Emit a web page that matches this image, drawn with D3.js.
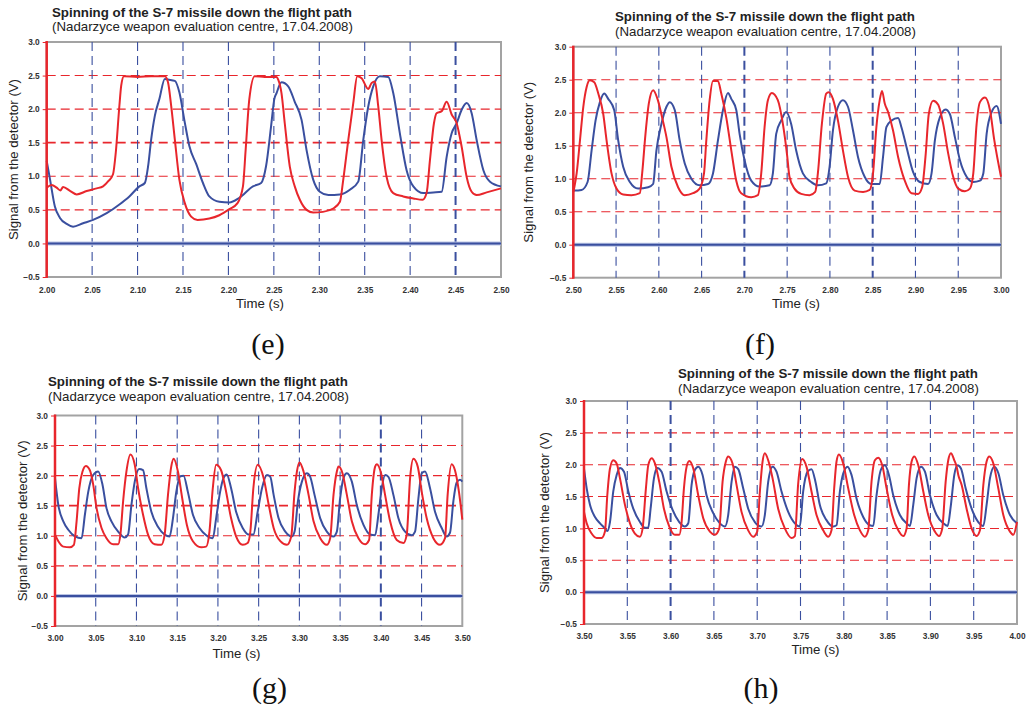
<!DOCTYPE html>
<html>
<head>
<meta charset="utf-8">
<script src="https://cdn.jsdelivr.net/npm/d3@7"></script>
<style>
  body { margin: 0; background: #fff; }
  svg { display: block; }
</style>
</head>
<body>
<svg id="fig" width="1026" height="706"></svg>
<script>
// detector signals, [time (s), signal (V)]
const redE = [[2.000,0.83],[2.0055,0.87],[2.011,0.83],[2.015,0.79],[2.018,0.84],[2.026,0.78],[2.033,0.73],[2.044,0.78],[2.055,0.82],[2.062,0.85],[2.068,0.93],[2.073,1.03],[2.076,1.35],[2.080,2.05],[2.082,2.35],[2.085,2.49],[2.10,2.48],[2.115,2.49],[2.130,2.49],[2.1335,2.40],[2.137,2.05],[2.141,1.55],[2.146,0.95],[2.152,0.60],[2.159,0.40],[2.166,0.35],[2.179,0.37],[2.190,0.42],[2.201,0.51],[2.210,0.60],[2.216,0.85],[2.219,1.40],[2.223,2.15],[2.229,2.49],[2.24,2.48],[2.253,2.48],[2.2548,2.44],[2.2584,2.24],[2.262,1.79],[2.2676,1.14],[2.273,0.85],[2.2786,0.65],[2.286,0.50],[2.2933,0.46],[2.304,0.47],[2.3153,0.52],[2.3227,0.62],[2.3264,0.95],[2.3319,1.54],[2.3374,2.09],[2.3418,2.49],[2.3466,2.46],[2.3539,2.30],[2.3576,2.39],[2.3612,2.41],[2.3649,2.04],[2.3686,1.54],[2.3741,0.99],[2.3814,0.75],[2.3924,0.70],[2.4035,0.67],[2.4137,0.65],[2.4181,0.75],[2.4218,1.24],[2.4262,1.79],[2.4291,1.94],[2.4347,1.97],[2.4402,2.11],[2.4457,1.92],[2.4512,1.79],[2.4567,1.44],[2.4622,0.99],[2.4677,0.77],[2.4732,0.72],[2.4842,0.76],[2.50,0.82]];
const blueE = [[2.000,1.23],[2.0037,0.95],[2.009,0.55],[2.0146,0.38],[2.022,0.29],[2.029,0.25],[2.040,0.30],[2.051,0.35],[2.066,0.45],[2.080,0.58],[2.091,0.70],[2.102,0.85],[2.108,0.90],[2.1116,1.15],[2.115,1.55],[2.119,1.90],[2.124,2.15],[2.130,2.45],[2.1335,2.44],[2.141,2.42],[2.146,2.25],[2.152,1.80],[2.157,1.45],[2.1646,1.18],[2.172,0.90],[2.179,0.70],[2.190,0.62],[2.201,0.61],[2.212,0.68],[2.227,0.85],[2.236,0.90],[2.2414,1.15],[2.247,1.75],[2.2505,2.15],[2.253,2.24],[2.2584,2.40],[2.2658,2.34],[2.273,2.11],[2.2805,1.84],[2.286,1.39],[2.2933,0.95],[2.3006,0.77],[2.31,0.72],[2.3227,0.73],[2.3337,0.80],[2.3429,0.92],[2.3484,1.54],[2.3539,2.04],[2.3594,2.34],[2.3667,2.49],[2.3759,2.48],[2.3814,2.24],[2.3887,1.64],[2.3961,1.09],[2.4035,0.85],[2.4145,0.75],[2.4255,0.76],[2.4347,0.77],[2.4402,1.29],[2.4457,1.64],[2.4512,1.79],[2.4567,1.99],[2.4622,2.09],[2.4677,1.94],[2.4732,1.54],[2.4806,1.09],[2.4879,0.92],[2.50,0.85]];

const redF = [[2.50,0.80],[2.5012,0.87],[2.5039,1.08],[2.5078,1.58],[2.5117,2.09],[2.5156,2.39],[2.5194,2.49],[2.5245,2.46],[2.5292,2.29],[2.535,1.98],[2.5389,1.58],[2.5447,1.08],[2.5505,0.85],[2.5583,0.76],[2.568,0.75],[2.5778,0.78],[2.5805,1.08],[2.5844,1.68],[2.5883,2.14],[2.5933,2.34],[2.5984,2.21],[2.6038,1.93],[2.6089,1.63],[2.6147,1.18],[2.6225,0.87],[2.6302,0.75],[2.64,0.78],[2.6477,0.85],[2.6528,1.08],[2.6555,1.58],[2.6594,2.19],[2.6633,2.48],[2.6691,2.48],[2.673,2.29],[2.6788,1.93],[2.6847,1.43],[2.6905,0.97],[2.6963,0.78],[2.708,0.72],[2.7158,0.75],[2.7197,1.08],[2.7236,1.78],[2.7275,2.19],[2.7321,2.30],[2.7391,2.19],[2.745,1.83],[2.75,1.35],[2.7527,1.03],[2.7586,0.85],[2.7664,0.77],[2.7762,0.75],[2.7828,0.80],[2.7859,1.08],[2.7906,1.83],[2.7957,2.29],[2.7984,2.31],[2.8035,2.21],[2.8094,1.88],[2.8152,1.43],[2.8211,1.03],[2.8289,0.82],[2.8387,0.80],[2.8465,0.83],[2.8504,1.08],[2.8543,1.78],[2.8582,2.19],[2.8609,2.33],[2.8641,2.14],[2.868,2.01],[2.8738,1.73],[2.8797,1.33],[2.8875,0.97],[2.8953,0.78],[2.9031,0.77],[2.9078,0.87],[2.9117,1.33],[2.9156,1.98],[2.9207,2.18],[2.9266,2.12],[2.9324,1.83],[2.9383,1.38],[2.9441,1.03],[2.95,0.85],[2.9578,0.81],[2.9637,0.85],[2.9676,1.08],[2.9715,1.83],[2.9754,2.16],[2.9813,2.23],[2.9871,2.04],[2.9922,1.58],[3.00,1.03]];
const blueF = [[2.50,0.82],[2.5097,0.83],[2.5167,0.95],[2.5214,1.43],[2.526,1.88],[2.5311,2.16],[2.5362,2.29],[2.5408,2.21],[2.5478,2.04],[2.5525,1.58],[2.5583,1.18],[2.5661,0.95],[2.5758,0.85],[2.5875,0.87],[2.5933,0.92],[2.5972,1.43],[2.603,1.83],[2.6089,2.09],[2.6128,2.16],[2.6186,2.04],[2.6244,1.58],[2.6303,1.23],[2.638,1.00],[2.6477,0.90],[2.6575,0.92],[2.6633,1.08],[2.6691,1.58],[2.675,2.04],[2.6808,2.30],[2.6847,2.21],[2.6905,2.04],[2.6944,1.68],[2.7002,1.28],[2.708,0.97],[2.7177,0.88],[2.7294,0.90],[2.7333,1.08],[2.7372,1.68],[2.743,1.88],[2.7488,2.01],[2.7547,1.83],[2.7605,1.43],[2.7684,1.08],[2.7781,0.95],[2.7859,0.90],[2.7957,0.93],[2.7996,1.18],[2.8035,1.73],[2.8094,2.09],[2.8152,2.19],[2.8211,2.09],[2.827,1.73],[2.8328,1.33],[2.8406,1.03],[2.8484,0.92],[2.8582,0.92],[2.8621,1.33],[2.866,1.78],[2.8719,1.88],[2.8797,1.92],[2.8836,1.78],[2.8895,1.48],[2.8973,1.10],[2.9051,0.95],[2.9148,0.92],[2.9188,1.08],[2.9227,1.58],[2.9285,1.93],[2.9352,2.05],[2.9402,1.98],[2.9461,1.63],[2.952,1.28],[2.9598,1.03],[2.9676,0.95],[2.9754,0.97],[2.9793,1.08],[2.9832,1.68],[2.9891,2.01],[2.9949,2.10],[3.00,1.83]];

const redG = [[3.00,1.02],[3.0041,0.91],[3.0102,0.82],[3.0184,0.81],[3.0232,0.85],[3.0265,1.24],[3.0298,1.79],[3.0338,2.07],[3.0379,2.16],[3.0428,2.09],[3.0469,1.85],[3.051,1.46],[3.0571,1.13],[3.0632,0.96],[3.0714,0.86],[3.0775,0.86],[3.0803,1.02],[3.0836,1.57],[3.0877,2.07],[3.0926,2.35],[3.0979,2.18],[3.102,1.79],[3.1081,1.35],[3.1142,1.02],[3.1223,0.86],[3.1305,0.85],[3.1346,1.02],[3.1387,1.68],[3.1427,2.15],[3.1456,2.28],[3.1509,2.07],[3.1562,1.62],[3.1619,1.18],[3.1693,0.91],[3.1794,0.81],[3.1856,0.82],[3.1896,1.07],[3.1937,1.79],[3.1978,2.18],[3.2039,2.09],[3.2092,1.79],[3.2162,1.29],[3.2223,0.99],[3.2304,0.85],[3.2365,0.88],[3.2398,1.07],[3.2435,1.79],[3.2488,2.18],[3.2561,1.96],[3.2623,1.52],[3.2684,1.13],[3.2766,0.91],[3.2847,0.85],[3.29,0.99],[3.2941,1.73],[3.297,2.07],[3.3002,2.22],[3.3051,2.07],[3.3113,1.68],[3.3174,1.24],[3.3256,0.96],[3.3337,0.85],[3.3378,0.96],[3.3419,1.68],[3.346,2.07],[3.348,2.15],[3.3529,2.04],[3.3583,1.68],[3.3644,1.24],[3.3725,0.96],[3.3807,0.86],[3.3856,0.93],[3.3889,1.68],[3.393,2.15],[3.395,2.19],[3.4003,2.04],[3.4052,1.68],[3.4114,1.24],[3.4195,0.93],[3.4277,0.88],[3.4318,1.02],[3.4359,1.96],[3.44,2.28],[3.4453,2.15],[3.4502,1.73],[3.4563,1.29],[3.4645,0.96],[3.4727,0.85],[3.4788,0.96],[3.482,1.68],[3.4869,2.19],[3.491,2.09],[3.4959,1.73],[3.50,1.27]];
const blueG = [[3.00,1.96],[3.0041,1.51],[3.0102,1.24],[3.0163,1.10],[3.0245,0.99],[3.0326,0.96],[3.0367,1.35],[3.0408,1.73],[3.0469,2.01],[3.053,2.07],[3.0583,1.85],[3.0632,1.46],[3.0693,1.24],[3.0775,1.07],[3.0856,0.97],[3.0897,1.02],[3.0938,1.51],[3.0979,1.90],[3.1032,2.11],[3.1081,2.09],[3.1122,1.79],[3.1183,1.40],[3.1264,1.15],[3.1346,1.02],[3.1407,0.99],[3.1448,1.29],[3.1489,1.73],[3.1538,1.99],[3.1578,2.00],[3.1631,1.73],[3.1693,1.35],[3.1774,1.13],[3.1856,1.01],[3.1937,0.96],[3.1978,1.29],[3.2027,1.73],[3.2068,1.96],[3.2108,2.02],[3.2162,1.79],[3.2223,1.40],[3.2304,1.13],[3.2378,1.02],[3.2435,1.02],[3.2488,1.40],[3.2541,1.79],[3.2602,2.01],[3.2643,1.98],[3.2684,1.68],[3.2745,1.29],[3.2827,1.07],[3.2908,0.99],[3.2941,1.07],[3.2982,1.57],[3.3031,1.90],[3.3092,2.04],[3.3133,1.98],[3.3186,1.68],[3.3256,1.29],[3.3337,1.07],[3.3419,0.99],[3.346,1.07],[3.35,1.62],[3.3542,1.96],[3.3583,2.04],[3.3644,1.90],[3.3705,1.51],[3.3787,1.18],[3.3868,1.02],[3.393,1.01],[3.397,1.35],[3.4011,1.79],[3.4052,2.01],[3.4093,1.98],[3.4154,1.68],[3.4216,1.29],[3.4297,1.07],[3.4379,1.01],[3.442,1.07],[3.4461,1.62],[3.4502,2.04],[3.4543,2.07],[3.4604,1.79],[3.4665,1.40],[3.4747,1.13],[3.4808,0.99],[3.4849,1.05],[3.489,1.57],[3.493,1.88],[3.4971,1.93],[3.50,1.90]];

const redH = [[3.50,1.26],[3.5031,1.08],[3.5088,0.92],[3.5146,0.85],[3.5204,0.85],[3.5242,0.95],[3.5269,1.52],[3.53,1.94],[3.5338,2.07],[3.5377,2.02],[3.5415,1.79],[3.5473,1.37],[3.5531,1.08],[3.5588,0.92],[3.5646,0.87],[3.5677,1.00],[3.5715,1.63],[3.5742,1.99],[3.5781,2.10],[3.5819,2.02],[3.5869,1.73],[3.5923,1.31],[3.5985,1.03],[3.605,0.90],[3.61,0.90],[3.6127,1.10],[3.6154,1.63],[3.6185,1.97],[3.6215,2.06],[3.6262,1.94],[3.6319,1.52],[3.6377,1.16],[3.6454,0.95],[3.6512,0.90],[3.6562,1.00],[3.66,1.73],[3.6638,2.05],[3.6665,2.13],[3.6715,2.02],[3.6762,1.68],[3.6819,1.26],[3.6896,0.97],[3.6954,0.87],[3.70,0.95],[3.7031,1.58],[3.7062,2.05],[3.7088,2.18],[3.7127,2.07],[3.7177,1.79],[3.7242,1.31],[3.7319,1.00],[3.7396,0.85],[3.7435,0.88],[3.7473,1.70],[3.7519,2.09],[3.7569,1.97],[3.7627,1.58],[3.7685,1.21],[3.7762,0.97],[3.782,0.87],[3.7858,0.97],[3.7889,1.63],[3.7916,2.05],[3.7943,2.16],[3.7993,2.02],[3.8051,1.63],[3.812,1.21],[3.8186,0.97],[3.8243,0.87],[3.8282,0.97],[3.832,1.73],[3.8359,2.07],[3.8398,2.11],[3.8444,1.99],[3.8494,1.63],[3.8559,1.21],[3.8629,0.97],[3.8686,0.88],[3.8725,1.00],[3.8752,1.68],[3.8783,2.05],[3.8814,2.13],[3.886,1.99],[3.8918,1.58],[3.8975,1.21],[3.9052,0.95],[3.9099,0.88],[3.9137,1.00],[3.9176,1.73],[3.9206,2.07],[3.9237,2.18],[3.9276,2.07],[3.9303,1.97],[3.9322,1.84],[3.9361,1.68],[3.9418,1.31],[3.9476,1.00],[3.9534,0.88],[3.9572,0.97],[3.9611,1.68],[3.9649,2.05],[3.968,2.13],[3.9727,2.02],[3.9784,1.63],[3.9842,1.21],[3.9919,0.95],[3.9958,0.90],[4.00,1.10]];
const blueH = [[3.50,1.94],[3.5031,1.63],[3.5069,1.37],[3.5127,1.18],[3.5185,1.08],[3.5242,1.00],[3.5269,0.96],[3.53,1.10],[3.5338,1.58],[3.5377,1.84],[3.5415,1.95],[3.5462,1.89],[3.5512,1.58],[3.5569,1.31],[3.5646,1.10],[3.5704,1.01],[3.5742,1.01],[3.5769,1.31],[3.5808,1.79],[3.5846,1.95],[3.5896,1.89],[3.5954,1.58],[3.6023,1.29],[3.61,1.10],[3.6165,1.03],[3.6204,1.08],[3.6242,1.68],[3.6281,1.92],[3.6319,1.97],[3.6369,1.84],[3.6415,1.52],[3.6492,1.24],[3.6569,1.08],[3.6627,1.03],[3.6665,1.21],[3.6704,1.73],[3.6742,1.97],[3.6781,1.93],[3.6838,1.63],[3.6896,1.31],[3.6973,1.10],[3.705,1.03],[3.7088,1.21],[3.7127,1.73],[3.7177,1.97],[3.7223,1.89],[3.7281,1.58],[3.7358,1.26],[3.7435,1.08],[3.7492,1.03],[3.7531,1.58],[3.7581,1.89],[3.7627,1.93],[3.7673,1.73],[3.7723,1.37],[3.78,1.13],[3.7877,1.03],[3.7916,1.05],[3.7955,1.58],[3.7993,1.86],[3.8043,1.97],[3.8089,1.84],[3.8147,1.47],[3.8224,1.18],[3.8301,1.05],[3.834,1.04],[3.8378,1.52],[3.8428,1.92],[3.8475,1.99],[3.8521,1.84],[3.8571,1.52],[3.8648,1.21],[3.8725,1.08],[3.8764,1.04],[3.8802,1.37],[3.8841,1.79],[3.8891,1.97],[3.8937,1.89],[3.8995,1.52],[3.9072,1.21],[3.9149,1.08],[3.9199,1.04],[3.9237,1.37],[3.9276,1.84],[3.9314,1.99],[3.9353,1.94],[3.9407,1.63],[3.9476,1.31],[3.9553,1.10],[3.9611,1.04],[3.9649,1.37],[3.9688,1.79],[3.9738,1.97],[3.9784,1.87],[3.9842,1.52],[3.9919,1.21],[4.00,1.08]];

const yTicks = [-0.5, 0, 0.5, 1.0, 1.5, 2.0, 2.5, 3.0];
const yGrid = [0.5, 1.0, 1.5, 2.0, 2.5];
const titleText = "Spinning of the S-7 missile down the flight path";
const subText = "(Nadarzyce weapon evaluation centre, 17.04.2008)";
const yLabel = "Signal from the detector (V)";
const xLabel = "Time (s)";

// panel placement (pixels)
const panels = [
  {tag: "(e)", t: [2.0, 2.5], red: redE, blue: blueE, x0: 46.7, x1: 501, y0: 42, y1: 277,
   tx: 52, ty: 17, sy: 31, lx: 18, tickY: 293, xlX: 260, xlY: 308, tagX: 268, tagY: 354, heavyX: [2.45], heavyY: [1.5]},
  {tag: "(f)", t: [2.5, 3.0], red: redF, blue: blueF, x0: 573.3, x1: 1001, y0: 46.7, y1: 277.7,
   tx: 615, ty: 21, sy: 36, lx: 533, tickY: 293, xlX: 796, xlY: 308, tagX: 760, tagY: 354, heavyX: [2.70, 2.85], heavyY: []},
  {tag: "(g)", t: [3.0, 3.5], red: redG, blue: blueG, x0: 55, x1: 462.3, y0: 415.5, y1: 626,
   tx: 48, ty: 386, sy: 400.5, lx: 27, tickY: 641, xlX: 236.5, xlY: 658, tagX: 269.5, tagY: 698, heavyX: [3.40], heavyY: [1.5]},
  {tag: "(h)", t: [3.5, 4.0], red: redH, blue: blueH, x0: 584, x1: 1017, y0: 401, y1: 624,
   tx: 678, ty: 378, sy: 392.5, lx: 549, tickY: 639, xlX: 815.5, xlY: 654, tagX: 761, tagY: 698, heavyX: [3.60], heavyY: []}
];

const redC = "#e8262c", blueC = "#3a4f9f", frameC = "#a3a3a3";
const sans = "'Liberation Sans', Arial, sans-serif";
const svg = d3.select("#fig");

// scale a text's font size so it spans the width seen in the picture
function fit(sel, w) {
  const len = sel.node().getComputedTextLength();
  sel.attr("font-size", 13 * w / len);
  return sel;
}

panels.forEach(p => {
  const x = d3.scaleLinear().domain(p.t).range([p.x0, p.x1]);
  const y = d3.scaleLinear().domain([-0.5, 3.0]).range([p.y1, p.y0]);
  const g = svg.append("g");

  // grey frame
  g.append("rect")
    .attr("x", p.x0).attr("y", p.y0)
    .attr("width", p.x1 - p.x0).attr("height", p.y1 - p.y0)
    .attr("fill", "none").attr("stroke", frameC).attr("stroke-width", 2);

  // red dashed horizontals
  g.selectAll(".hg").data(yGrid).join("line")
    .attr("x1", p.x0).attr("x2", p.x1)
    .attr("y1", d => y(d)).attr("y2", d => y(d))
    .attr("stroke", redC)
    .attr("stroke-width", d => p.heavyY.includes(d) ? 1.8 : 1.1)
    .attr("stroke-dasharray", "9,5");

  // blue dashed verticals
  const xt = x.ticks(10);
  g.selectAll(".vg").data(xt.slice(1, -1)).join("line")
    .attr("x1", d => x(d)).attr("x2", d => x(d))
    .attr("y1", p.y0).attr("y2", p.y1)
    .attr("stroke", blueC)
    .attr("stroke-width", d => p.heavyX.some(h => Math.abs(h - d) < 1e-6) ? 2 : 1.1)
    .attr("stroke-dasharray", "9,5");

  // zero line
  g.append("line")
    .attr("x1", p.x0).attr("x2", p.x1)
    .attr("y1", y(0)).attr("y2", y(0))
    .attr("stroke", "#b9c3e3").attr("stroke-width", 4);
  g.append("line")
    .attr("x1", p.x0).attr("x2", p.x1)
    .attr("y1", y(0)).attr("y2", y(0))
    .attr("stroke", blueC).attr("stroke-width", 2);

  const line = d3.line().x(d => x(d[0])).y(d => y(d[1])).curve(d3.curveMonotoneX);
  g.append("path").datum(p.blue).attr("d", line)
    .attr("fill", "none").attr("stroke", blueC).attr("stroke-width", 2).attr("stroke-linejoin", "round");
  g.append("path").datum(p.red).attr("d", line)
    .attr("fill", "none").attr("stroke", redC).attr("stroke-width", 2).attr("stroke-linejoin", "round");

  // axes
  const ax = g.append("g")
    .attr("transform", `translate(0,${p.y1})`)
    .call(d3.axisBottom(x).ticks(10).tickFormat(d3.format(".2f")).tickSize(0).tickPadding(p.tickY - p.y1 - 5.9));
  ax.select(".domain").remove();
  ax.selectAll("text").attr("font-family", sans).attr("font-size", 8.3).attr("font-weight", "bold").attr("fill", "#333");

  const ay = g.append("g")
    .attr("transform", `translate(${p.x0},0)`)
    .call(d3.axisLeft(y).tickValues(yTicks).tickFormat(d3.format(".1f")).tickSize(4).tickPadding(3));
  ay.select(".domain").remove();
  ay.selectAll("line").attr("stroke", redC).attr("stroke-width", 1);
  ay.selectAll("text").attr("font-family", sans).attr("font-size", 8.3).attr("font-weight", "bold").attr("fill", "#333");

  // red left axis
  g.append("line")
    .attr("x1", p.x0).attr("x2", p.x0)
    .attr("y1", p.y0 - 1).attr("y2", p.y1 + 1)
    .attr("stroke", redC).attr("stroke-width", 2.5);

  // titles and labels
  fit(g.append("text").attr("x", p.tx).attr("y", p.ty)
    .attr("font-family", sans).attr("font-size", 13).attr("font-weight", "bold").attr("fill", "#222")
    .text(titleText), 300);
  fit(g.append("text").attr("x", p.tx).attr("y", p.sy)
    .attr("font-family", sans).attr("font-size", 13).attr("fill", "#222")
    .text(subText), 301);
  fit(g.append("text")
    .attr("transform", `translate(${p.lx},${(p.y0 + p.y1) / 2}) rotate(-90)`)
    .attr("text-anchor", "middle")
    .attr("font-family", sans).attr("font-size", 13).attr("fill", "#222")
    .text(yLabel), 161);
  fit(g.append("text").attr("x", p.xlX).attr("y", p.xlY)
    .attr("text-anchor", "middle")
    .attr("font-family", sans).attr("font-size", 13).attr("fill", "#222")
    .text(xLabel), 48);
  g.append("text").attr("x", p.tagX).attr("y", p.tagY)
    .attr("text-anchor", "middle")
    .attr("font-family", "'Liberation Serif', 'Times New Roman', serif").attr("font-size", 30).attr("fill", "#111")
    .text(p.tag);
});
</script>
</body>
</html>
